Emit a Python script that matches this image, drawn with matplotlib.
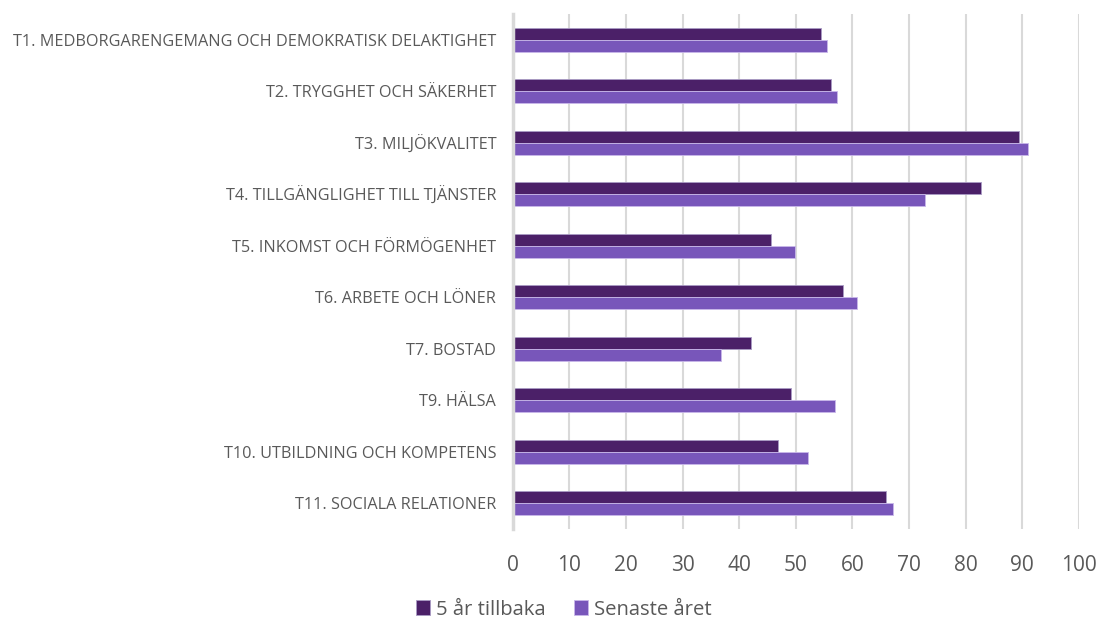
import numpy as np
from matplotlib import pyplot as plt

categories = [
    "T1. MEDBORGARENGEMANG OCH DEMOKRATISK DELAKTIGHET",
    "T2. TRYGGHET OCH SÄKERHET",
    "T3. MILJÖKVALITET",
    "T4. TILLGÄNGLIGHET TILL TJÄNSTER",
    "T5. INKOMST OCH FÖRMÖGENHET",
    "T6. ARBETE OCH LÖNER",
    "T7. BOSTAD",
    "T9. HÄLSA",
    "T10. UTBILDNING OCH KOMPETENS",
    "T11. SOCIALA RELATIONER",
]
five_years_ago = [54.5, 56.3, 89.4, 82.8, 45.6, 58.3, 42.0, 49.2, 46.9, 65.9]
latest_year = [55.5, 57.3, 91.0, 72.9, 49.8, 60.9, 36.8, 56.9, 52.1, 67.2]
series_names = ["5 år tillbaka", "Senaste året"]
xticks = list(range(0, 101, 10))

DARK = "#4b2068"
LIGHT = "#7856ba"
TEXT = "#595959"

plt.rcParams['font.family'] = ['Open Sans', 'DejaVu Sans']

fig = plt.figure(figsize=(10.99, 6.22), dpi=100)
ax = fig.add_axes([0.4666, 0.1495, 0.515, 0.828])

y = np.arange(len(categories))
h = 0.235
ax.barh(y - h / 2, five_years_ago, height=h, color=DARK, edgecolor="#a99bc4",
        linewidth=0.6, label=series_names[0], zorder=3)
ax.barh(y + h / 2, latest_year, height=h, color=LIGHT, edgecolor="#c9b8ea",
        linewidth=0.6, label=series_names[1], zorder=3)

ax.set_ylim(len(categories) - 0.5, -0.5)
ax.set_xlim(0, 100)
ax.set_yticks(y)
ax.set_yticklabels(categories, fontsize=11.7, color=TEXT)
ax.set_xticks(xticks)
ax.tick_params(axis="x", labelsize=15, labelcolor=TEXT, length=0, pad=19)
ax.tick_params(axis="y", length=0, pad=12)

ax.grid(axis="x", color="#d9d9d9", linewidth=1.5, zorder=0)
for side in ["top", "right", "bottom"]:
    ax.spines[side].set_visible(False)
ax.spines["left"].set_color("#d9d9d9")
ax.spines["left"].set_linewidth(2.5)
ax.spines["left"].set_zorder(4)

fig.legend(loc="center", bbox_to_anchor=(0.513, 0.02), ncol=2,
           frameon=False, fontsize=14.6, labelcolor=TEXT, handlelength=0.7,
           handleheight=0.7, handletextpad=0.3, columnspacing=1.4,
           borderpad=0.1)

fig.savefig("out.png", dpi=100)
